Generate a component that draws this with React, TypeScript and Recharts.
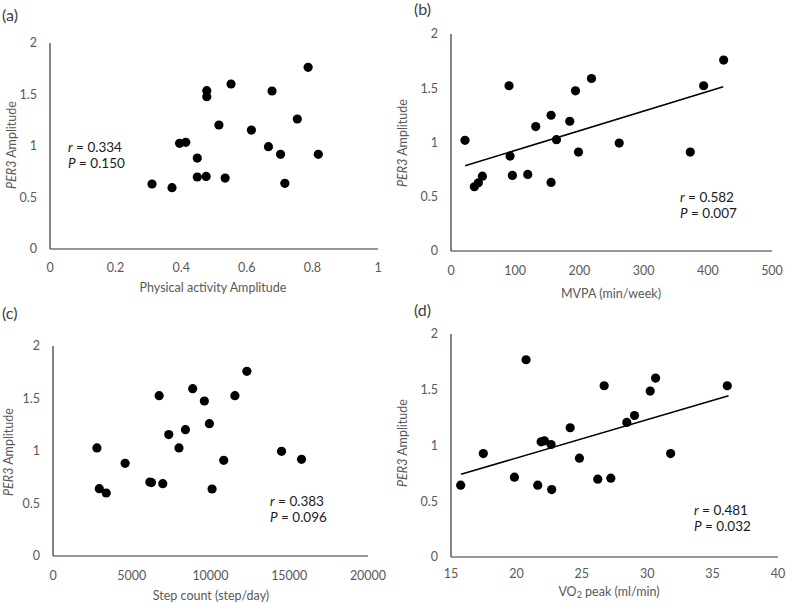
import React from 'react';
import { ScatterChart, Scatter, XAxis, YAxis, ReferenceLine } from 'recharts';

// Panel (a): physical activity amplitude
const aX = [0.311, 0.372, 0.395, 0.414, 0.449, 0.449, 0.476, 0.478, 0.478, 0.534, 0.515, 0.552, 0.614, 0.666, 0.677, 0.703, 0.716, 0.754, 0.787, 0.818];
const aY = [0.631, 0.595, 1.026, 1.036, 0.883, 0.699, 0.705, 1.537, 1.479, 0.689, 1.204, 1.602, 1.155, 0.993, 1.534, 0.919, 0.638, 1.262, 1.764, 0.919];
const aTicks = [0, 0.2, 0.4, 0.6, 0.8, 1];

// Panel (b): MVPA
const bX = [21.8, 36.4, 42.6, 48.9, 90.4, 92.0, 95.6, 119.6, 132.0, 155.9, 155.9, 164.3, 185.0, 193.9, 198.6, 218.8, 262.0, 372.7, 393.5, 424.7];
const bY = [1.020, 0.592, 0.629, 0.690, 1.523, 0.875, 0.697, 0.706, 1.147, 1.251, 0.632, 1.026, 1.196, 1.476, 0.912, 1.590, 0.995, 0.912, 1.523, 1.760];
const bTicks = [0, 100, 200, 300, 400, 500];
const bTrendX = [22, 424];
const bTrendY = [0.786, 1.513];

// Panel (c): step count
const cX = [2790, 2940, 3380, 4580, 6150, 6250, 6740, 6970, 7350, 8000, 8410, 8870, 9610, 9930, 10100, 10840, 11550, 12310, 14510, 15780];
const cY = [1.029, 0.641, 0.600, 0.883, 0.705, 0.699, 1.527, 0.689, 1.156, 1.029, 1.203, 1.594, 1.476, 1.260, 0.638, 0.911, 1.527, 1.759, 0.997, 0.921];
const cTicks = [0, 5000, 10000, 15000, 20000];

// Panel (d): VO2 peak
const dX = [15.74, 17.47, 19.85, 20.74, 21.63, 21.89, 22.14, 22.65, 22.70, 24.11, 24.82, 26.22, 26.71, 27.22, 28.44, 29.03, 30.23, 30.64, 31.79, 36.12];
const dY = [0.644, 0.928, 0.716, 1.769, 0.644, 1.033, 1.042, 1.009, 0.605, 1.159, 0.886, 0.698, 1.536, 0.707, 1.207, 1.269, 1.488, 1.605, 0.928, 1.536];
const dTicks = [15, 20, 25, 30, 35, 40];
const dTrendX = [15.77, 36.22];
const dTrendY = [0.742, 1.446];

const yTicks = [0, 0.5, 1, 1.5, 2];

const FONT = 'Lato, "Open Sans", sans-serif';
const GRAY = '#595959';
const AXIS = '#333333';

const zip = (xs: number[], ys: number[]) => xs.map((x, i) => ({ x, y: ys[i] }));

const Dot = (props: any) => <circle cx={props.cx} cy={props.cy} r={4.6} fill="#000" />;

type PanelProps = {
  left: number; top: number; width: number; height: number;
  plotLeft: number; plotTop: number; plotRight: number; plotBottom: number;
  xs: number[]; ys: number[]; xTicks: number[];
  trendX?: number[]; trendY?: number[];
  xTitle: React.ReactNode; xTitleX: number; xTitleY: number;
  yTitleX: number; yTitleY: number;
  xTickMargin: number;
  tag: string; tagX: number; tagY: number;
  r: string; p: string; annX: number; annY: number;
};

function Panel(pp: PanelProps) {
  const data = zip(pp.xs, pp.ys);
  const yAxisW = 40;
  const xAxisH = 30;
  const margin = {
    top: pp.plotTop,
    right: pp.width - pp.plotRight,
    left: pp.plotLeft - yAxisW,
    bottom: pp.height - pp.plotBottom - xAxisH,
  };
  const tickStyle = { fill: GRAY, fontSize: 12.5, fontFamily: FONT };
  return (
    <div style={{ position: 'absolute', left: pp.left, top: pp.top, width: pp.width, height: pp.height }}>
      <ScatterChart width={pp.width} height={pp.height} margin={margin}>
        <XAxis
          type="number"
          dataKey="x"
          domain={[pp.xTicks[0], pp.xTicks[pp.xTicks.length - 1]]}
          ticks={pp.xTicks}
          tickLine={false}
          tickSize={0}
          tickMargin={pp.xTickMargin}
          height={xAxisH}
          axisLine={{ stroke: AXIS, strokeWidth: 1.2 }}
          tick={tickStyle}
          allowDataOverflow
          label={{
            content: () => (
              <text x={pp.xTitleX} y={pp.xTitleY} textAnchor="middle" dominantBaseline="central"
                fill={GRAY} fontSize={12.5} fontFamily={FONT}>{pp.xTitle}</text>
            ),
          }}
        />
        <YAxis
          type="number"
          dataKey="y"
          domain={[0, 2]}
          ticks={yTicks}
          tickLine={false}
          tickSize={0}
          tickMargin={13}
          width={yAxisW}
          axisLine={{ stroke: AXIS, strokeWidth: 1.2 }}
          tick={tickStyle}
          allowDataOverflow
          label={{
            content: () => (
              <text transform={`translate(${pp.yTitleX},${pp.yTitleY}) rotate(-90)`} textAnchor="middle"
                dominantBaseline="central" fill={GRAY} fontSize={12.5} fontFamily={FONT}>
                <tspan fontStyle="italic">PER3</tspan> Amplitude
              </text>
            ),
          }}
        />
        {pp.trendX && pp.trendY && (
          <ReferenceLine
            segment={[{ x: pp.trendX[0], y: pp.trendY[0] }, { x: pp.trendX[1], y: pp.trendY[1] }]}
            stroke="#000"
            strokeWidth={1.6}
            ifOverflow="visible"
          />
        )}
        <Scatter data={data} fill="#000" shape={Dot} isAnimationActive={false} />
      </ScatterChart>
      <div style={{ position: 'absolute', left: pp.tagX, top: pp.tagY - 10, fontFamily: FONT, fontSize: 16, color: '#404040', lineHeight: '20px' }}>{pp.tag}</div>
      <div style={{ position: 'absolute', left: pp.annX, top: pp.annY - 8, fontFamily: FONT, fontSize: 13.5, color: '#1a1a1a', lineHeight: '16px', whiteSpace: 'nowrap' }}>
        <div><i>r</i> = {pp.r}</div>
        <div><i>P</i> = {pp.p}</div>
      </div>
    </div>
  );
}

export default function App() {
  return (
    <div style={{ position: 'absolute', left: 0, top: 0, width: 787, height: 604, background: '#fff', overflow: 'hidden' }}>
      <Panel
        left={0} top={0} width={393} height={300}
        plotLeft={50} plotTop={43} plotRight={378} plotBottom={249}
        xs={aX} ys={aY} xTicks={aTicks}
        xTitle="Physical activity Amplitude" xTitleX={213} xTitleY={287}
        yTitleX={11} yTitleY={145}
        xTickMargin={14}
        tag="(a)" tagX={2} tagY={15}
        r="0.334" p="0.150" annX={68} annY={147}
      />
      <Panel
        left={392} top={0} width={395} height={300}
        plotLeft={59} plotTop={34} plotRight={380} plotBottom={251}
        xs={bX} ys={bY} xTicks={bTicks} trendX={bTrendX} trendY={bTrendY}
        xTitle="MVPA (min/week)" xTitleX={219} xTitleY={293}
        yTitleX={10} yTitleY={143}
        xTickMargin={15}
        tag="(b)" tagX={22} tagY={9}
        r="0.582" p="0.007" annX={288} annY={197}
      />
      <Panel
        left={0} top={300} width={393} height={304}
        plotLeft={53} plotTop={46} plotRight={368} plotBottom={256}
        xs={cX} ys={cY} xTicks={cTicks}
        xTitle="Step count (step/day)" xTitleX={211} xTitleY={295}
        yTitleX={8} yTitleY={152}
        xTickMargin={15}
        tag="(c)" tagX={2} tagY={13}
        r="0.383" p="0.096" annX={270} annY={201}
      />
      <Panel
        left={392} top={300} width={395} height={304}
        plotLeft={59} plotTop={34} plotRight={386} plotBottom={257}
        xs={dX} ys={dY} xTicks={dTicks} trendX={dTrendX} trendY={dTrendY}
        xTitle={<><tspan>VO</tspan><tspan fontSize={9} dy={3}>2</tspan><tspan dy={-3}> peak (ml/min)</tspan></>}
        xTitleX={217} xTitleY={291}
        yTitleX={10} yTitleY={143}
        xTickMargin={12}
        tag="(d)" tagX={22} tagY={10}
        r="0.481" p="0.032" annX={302} annY={210}
      />
    </div>
  );
}
